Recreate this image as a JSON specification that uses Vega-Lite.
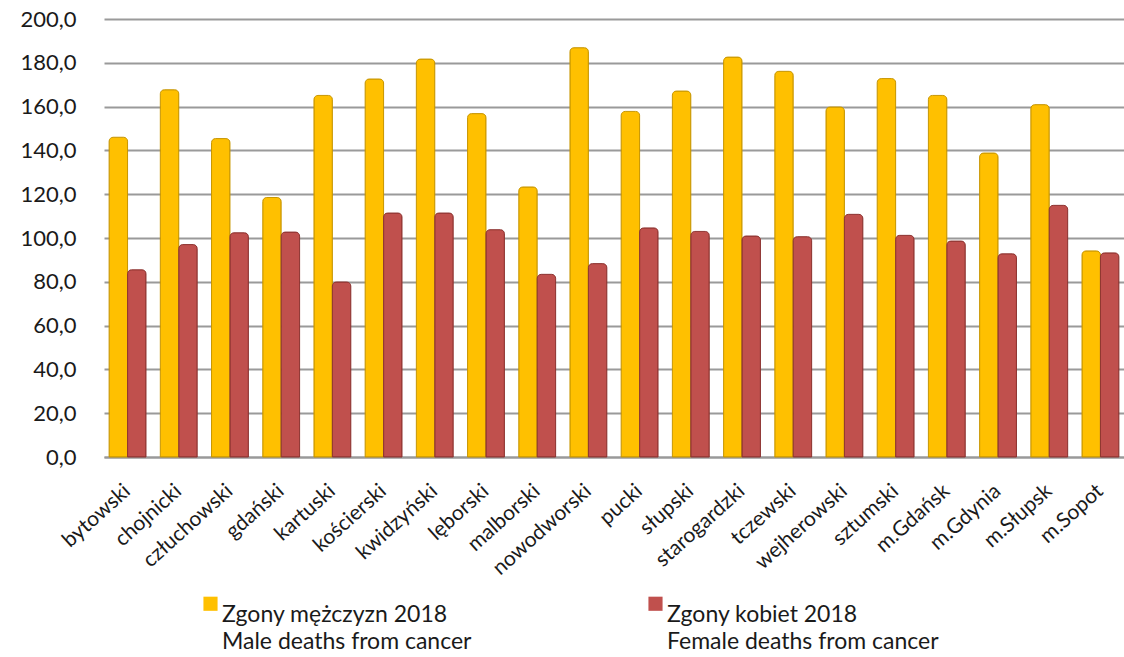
{
  "$schema": "https://vega.github.io/schema/vega-lite/v6.json",
  "width": 1020,
  "height": 438,
  "autosize": {"type": "none"},
  "padding": {"left": 104, "top": 19, "right": 0, "bottom": 200},
  "background": "white",
  "config": {"view": {"stroke": null}, "font": "Lato", "style": {"guide-label": {"lineHeight": 27}}},
  "data": {"values": [
    {"d": "bytowski", "s": "M", "v": 146.0}, {"d": "bytowski", "s": "K", "v": 85.5},
    {"d": "chojnicki", "s": "M", "v": 167.7}, {"d": "chojnicki", "s": "K", "v": 97.0},
    {"d": "człuchowski", "s": "M", "v": 145.4}, {"d": "człuchowski", "s": "K", "v": 102.4},
    {"d": "gdański", "s": "M", "v": 118.5}, {"d": "gdański", "s": "K", "v": 102.7},
    {"d": "kartuski", "s": "M", "v": 165.1}, {"d": "kartuski", "s": "K", "v": 79.9},
    {"d": "kościerski", "s": "M", "v": 172.6}, {"d": "kościerski", "s": "K", "v": 111.4},
    {"d": "kwidzyński", "s": "M", "v": 181.7}, {"d": "kwidzyński", "s": "K", "v": 111.4},
    {"d": "lęborski", "s": "M", "v": 156.8}, {"d": "lęborski", "s": "K", "v": 103.8},
    {"d": "malborski", "s": "M", "v": 123.3}, {"d": "malborski", "s": "K", "v": 83.4},
    {"d": "nowodworski", "s": "M", "v": 186.9}, {"d": "nowodworski", "s": "K", "v": 88.3},
    {"d": "pucki", "s": "M", "v": 157.8}, {"d": "pucki", "s": "K", "v": 104.6},
    {"d": "słupski", "s": "M", "v": 167.1}, {"d": "słupski", "s": "K", "v": 103.0},
    {"d": "starogardzki", "s": "M", "v": 182.6}, {"d": "starogardzki", "s": "K", "v": 100.9},
    {"d": "tczewski", "s": "M", "v": 176.1}, {"d": "tczewski", "s": "K", "v": 100.6},
    {"d": "wejherowski", "s": "M", "v": 159.8}, {"d": "wejherowski", "s": "K", "v": 110.8},
    {"d": "sztumski", "s": "M", "v": 172.8}, {"d": "sztumski", "s": "K", "v": 101.2},
    {"d": "m.Gdańsk", "s": "M", "v": 165.1}, {"d": "m.Gdańsk", "s": "K", "v": 98.6},
    {"d": "m.Gdynia", "s": "M", "v": 138.8}, {"d": "m.Gdynia", "s": "K", "v": 92.8},
    {"d": "m.Słupsk", "s": "M", "v": 160.9}, {"d": "m.Słupsk", "s": "K", "v": 114.9},
    {"d": "m.Sopot", "s": "M", "v": 94.1}, {"d": "m.Sopot", "s": "K", "v": 93.2}
  ]},
  "mark": {"type": "bar", "cornerRadiusEnd": 4, "strokeWidth": 1},
  "encoding": {
    "x": {
      "field": "d", "type": "nominal", "sort": null, "title": null,
      "scale": {"paddingInner": 0.28, "paddingOuter": 0.1},
      "axis": {
        "labelAngle": -42, "labelAlign": "right", "labelBaseline": "middle",
        "labelFont": "Lato", "labelFontSize": 21, "labelColor": "#1a1a1a",
        "labelPadding": 31, "ticks": false, "domainColor": "#999999", "domainWidth": 2,
        "labelOverlap": false, "labelBound": false
      }
    },
    "xOffset": {"field": "s", "type": "nominal", "sort": ["M", "K"]},
    "y": {
      "field": "v", "type": "quantitative", "title": null,
      "scale": {"domain": [0, 200]},
      "axis": {
        "values": [0, 20, 40, 60, 80, 100, 120, 140, 160, 180, 200],
        "labelExpr": "replace(format(datum.value, '.1f'), '.', ',')",
        "labelFont": "Lato", "labelFontSize": 22, "labelColor": "#1a1a1a",
        "labelPadding": 28, "ticks": false, "domain": false,
        "gridColor": "#9a9a9a", "gridWidth": 2
      }
    },
    "color": {
      "field": "s", "type": "nominal", "sort": ["M", "K"],
      "scale": {"domain": ["M", "K"], "range": ["#FFC000", "#C0504D"]},
      "legend": {
        "title": null, "orient": "none", "legendX": 95, "legendY": 573,
        "direction": "horizontal", "columns": 2, "columnPadding": 172,
        "symbolType": "square", "symbolSize": 200, "symbolStrokeWidth": 0,
        "labelFont": "Lato", "labelFontSize": 23, "labelColor": "#1a1a1a",
        "labelOffset": 0, "labelBaseline": "top", "labelLimit": 400,
        "labelExpr": "datum.value == 'M' ? ['Zgony mężczyzn 2018', 'Male deaths from cancer'] : ['Zgony kobiet 2018', 'Female deaths from cancer']"
      }
    },
    "stroke": {
      "field": "s", "type": "nominal", "sort": ["M", "K"],
      "scale": {"domain": ["M", "K"], "range": ["#C99700", "#8F3532"]},
      "legend": null
    }
  }
}
